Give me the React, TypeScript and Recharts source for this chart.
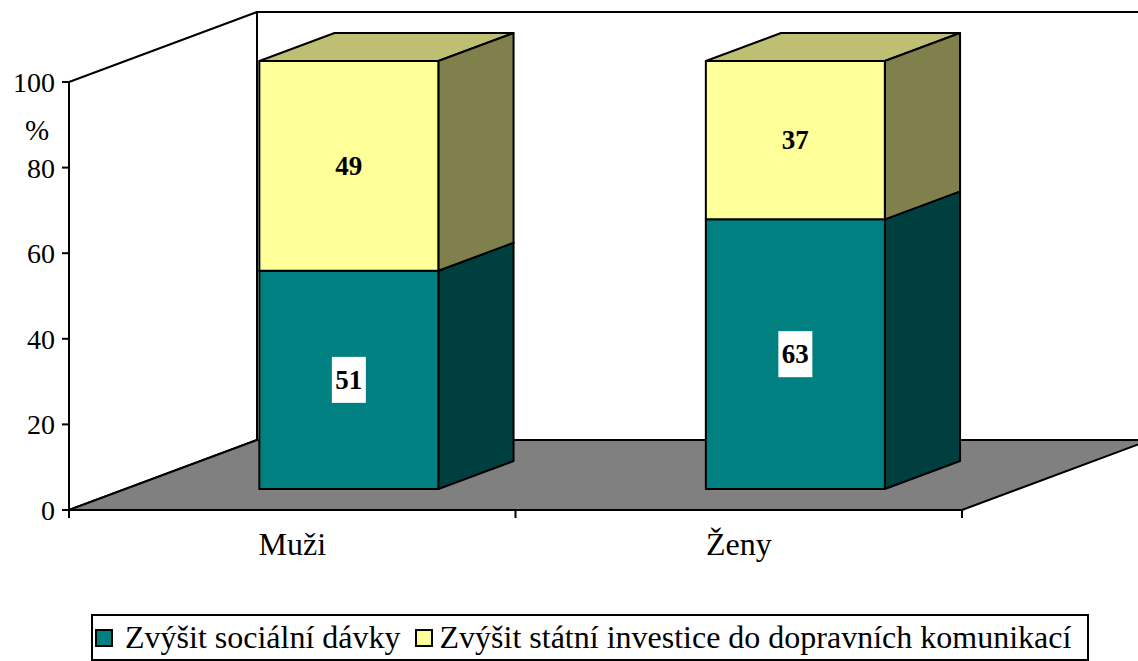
import React from 'react';
import { BarChart, Bar, XAxis, YAxis, ReferenceArea, LabelList, Legend } from 'recharts';

const categories = ['Muži', 'Ženy'];
const socialniDavky = [51, 63];
const statniInvestice = [49, 37];
const yTicks = [0, 20, 40, 60, 80, 100];
const seriesNames = ['Zvýšit sociální dávky', 'Zvýšit státní investice do dopravních komunikací'];

const data = categories.map((name, i) => ({
  name,
  socialni: socialniDavky[i],
  investice: statniInvestice[i],
}));

const FONT = "Liberation Serif, DejaVu Serif, serif";
const DX = 188;
const DY = 70;
const FRONT = 0.3;
const DEPTH = 0.4;

const COLORS = {
  teal: { front: '#008080', side: '#003F3F', top: '#006060' },
  yellow: { front: '#FFFF99', side: '#80804D', top: '#BFBF73' },
};

const make3D = (c: { front: string; side: string; top: string }) => (props: any) => {
  const { x, y, width, height } = props;
  if (width == null || height == null) return null;
  const fx = x + DX * FRONT;
  const fy = y - DY * FRONT;
  const bx = DX * DEPTH;
  const by = DY * DEPTH;
  const common = { stroke: '#000', strokeWidth: 2, strokeLinejoin: 'round' as const };
  return (
    <g>
      <polygon
        points={`${fx},${fy} ${fx + bx},${fy - by} ${fx + width + bx},${fy - by} ${fx + width},${fy}`}
        fill={c.top}
        {...common}
      />
      <polygon
        points={`${fx + width},${fy} ${fx + width + bx},${fy - by} ${fx + width + bx},${fy + height - by} ${fx + width},${fy + height}`}
        fill={c.side}
        {...common}
      />
      <rect x={fx} y={fy} width={width} height={height} fill={c.front} {...common} />
    </g>
  );
};

const labelContent = (boxed: boolean) => (props: any) => {
  const { x, y, width, height, value } = props;
  const cx = x + width / 2 + DX * FRONT;
  const cy = y + height / 2 - DY * FRONT;
  return (
    <g>
      {boxed && <rect x={cx - 17} y={cy - 23} width={34} height={46} fill="#fff" />}
      <text
        x={cx}
        y={cy}
        textAnchor="middle"
        dominantBaseline="central"
        fontFamily={FONT}
        fontWeight="bold"
        fontSize={27}
        fill="#000"
      >
        {value}
      </text>
    </g>
  );
};

const Walls = (props: any) => {
  const { x, y, width, height } = props;
  const bottom = y + height;
  const n = categories.length;
  const st = { stroke: '#000', strokeWidth: 2, strokeLinejoin: 'round' as const };
  const bounds = Array.from({ length: n + 1 }, (_, i) => x + (i * width) / n);
  return (
    <g>
      <rect x={x + DX} y={y - DY} width={width} height={height} fill="#fff" {...st} />
      <polygon
        points={`${x},${y} ${x + DX},${y - DY} ${x + DX},${bottom - DY} ${x},${bottom}`}
        fill="#fff"
        {...st}
      />
      <polygon
        points={`${x},${bottom} ${x + DX},${bottom - DY} ${x + width + DX},${bottom - DY} ${x + width},${bottom}`}
        fill="#808080"
        {...st}
      />
      {bounds.map((bx, i) => (
        <line key={i} x1={bx} y1={bottom} x2={bx} y2={bottom + 8} stroke="#000" strokeWidth={2} />
      ))}
    </g>
  );
};

const LegendBox = () => {
  const sq = (fill: string) => (
    <span
      style={{
        display: 'inline-block',
        width: 18,
        height: 18,
        background: fill,
        border: '2px solid #000',
        boxSizing: 'border-box',
      }}
    />
  );
  return (
    <div
      style={{
        width: 998,
        height: 47,
        border: '2px solid #000',
        boxSizing: 'border-box',
        display: 'flex',
        alignItems: 'center',
        paddingLeft: 2,
        fontFamily: FONT,
        fontSize: 32,
        color: '#000',
        background: '#fff',
        whiteSpace: 'nowrap',
      }}
    >
      {sq(COLORS.teal.front)}
      <span style={{ marginLeft: 12 }}>{seriesNames[0]}</span>
      <span style={{ marginLeft: 14, display: 'inline-flex' }}>{sq(COLORS.yellow.front)}</span>
      <span style={{ marginLeft: 7 }}>{seriesNames[1]}</span>
    </div>
  );
};

export default function App() {
  return (
    <div style={{ position: 'absolute', left: 0, top: 0, width: 1138, height: 661, background: '#fff' }}>
      <BarChart
        width={1138}
        height={661}
        data={data}
        margin={{ top: 82, right: 176, bottom: 91, left: 0 }}
        barCategoryGap="30%"
      >
        <XAxis
          dataKey="name"
          height={60}
          tickLine={false}
          tickSize={0}
          tickMargin={22}
          axisLine={{ stroke: '#000', strokeWidth: 2 }}
          tick={{ fill: '#000', fontSize: 32, fontFamily: FONT }}
        />
        <YAxis
          width={69}
          domain={[0, 100]}
          ticks={yTicks}
          interval={0}
          tickSize={7}
          tickMargin={7}
          axisLine={{ stroke: '#000', strokeWidth: 2 }}
          tickLine={{ stroke: '#000', strokeWidth: 2 }}
          tick={{ fill: '#000', fontSize: 28, fontFamily: FONT }}
          label={{
            content: (p: any) => {
              const vb = p.viewBox || { x: 0, y: 82 };
              return (
                <text
                  x={vb.x + 37}
                  y={vb.y + 58}
                  textAnchor="middle"
                  fontFamily={FONT}
                  fontSize={29}
                  fill="#000"
                >
                  %
                </text>
              );
            },
          }}
        />
        <ReferenceArea y1={0} y2={100} shape={(p: any) => <Walls {...p} />} zIndex={-10} />
        <Bar
          dataKey="socialni"
          stackId="a"
          name={seriesNames[0]}
          fill={COLORS.teal.front}
          shape={make3D(COLORS.teal)}
          isAnimationActive={false}
        >
          <LabelList dataKey="socialni" content={labelContent(true)} />
        </Bar>
        <Bar
          dataKey="investice"
          stackId="a"
          name={seriesNames[1]}
          fill={COLORS.yellow.front}
          shape={make3D(COLORS.yellow)}
          isAnimationActive={false}
        >
          <LabelList dataKey="investice" content={labelContent(false)} />
        </Bar>
        <Legend
          layout="vertical"
          align="center"
          verticalAlign="middle"
          wrapperStyle={{ left: 91, top: 614, width: 998, height: 47 }}
          content={() => <LegendBox />}
        />
      </BarChart>
    </div>
  );
}
